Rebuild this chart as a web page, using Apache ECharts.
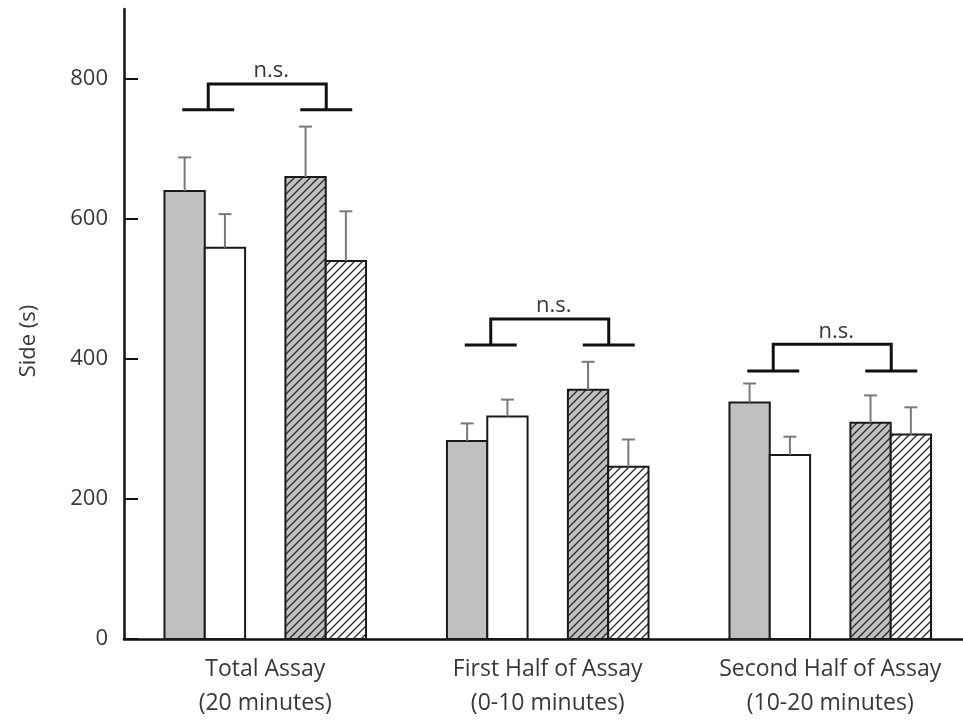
<!DOCTYPE html>
<html>
<head>
<meta charset="utf-8">
<script src="https://cdn.jsdelivr.net/npm/echarts@6/dist/echarts.min.js"></script>
<style>
  html, body { margin: 0; padding: 0; background: #ffffff; }
  #chart { width: 963px; height: 720px; }
</style>
</head>
<body>
<div id="chart"></div>
<script>
// ---- data ----
const categories = [
  'Total Assay\n(20 minutes)',
  'First Half of Assay\n(0-10 minutes)',
  'Second Half of Assay\n(10-20 minutes)'
];
const yTicks = [0, 200, 400, 600, 800];

const solidGrey = [640, 283, 338];
const solidGreyErr = [48, 25, 27];
const solidWhite = [559, 318, 263];
const solidWhiteErr = [48, 24, 26];
const hatchedGrey = [660, 356, 309];
const hatchedGreyErr = [72, 40, 39];
const hatchedWhite = [540, 246, 292];
const hatchedWhiteErr = [71, 39, 39];

const bracketTop = [793, 457, 421];
const bracketLow = [756, 420, 383];
const bracketLabel = 'n.s.';

// ---- styling ----
const FONT = '"Open Sans", "Noto Sans", sans-serif';
const TEXT = '#383838';
const BAR_W = 0.1427;            // bar width in category units
const CAP = 6.5;                 // half width of error caps (px)
const ERR_COLOR = '#7a7a7a';
const GREY = '#c0c0c0';
const OUTLINE = '#1a1a1a';

function hatch(bg) {
  const s = 8;
  const c = document.createElement('canvas');
  c.width = s; c.height = s;
  const g = c.getContext('2d');
  g.fillStyle = bg;
  g.fillRect(0, 0, s, s);
  g.strokeStyle = '#2a2a2a';
  g.lineWidth = 1.3;
  g.beginPath();
  g.moveTo(-1, s + 1); g.lineTo(s + 1, -1);
  g.moveTo(-1, 1); g.lineTo(1, -1);
  g.moveTo(s - 1, s + 1); g.lineTo(s + 1, s - 1);
  g.stroke();
  return { image: c, repeat: 'repeat' };
}

function rows(values, errs) {
  return values.map((v, i) => [i, v, errs[i]]);
}

function barRenderer(slot, fill) {
  return function (params, api) {
    const cx = api.value(0) + slot * BAR_W;
    const v = api.value(1);
    const e = api.value(2);
    const w = api.size([BAR_W, 0])[0];
    const top = api.coord([cx, v]);
    const base = api.coord([cx, 0]);
    const et = api.coord([cx, v + e]);
    return {
      type: 'group',
      children: [
        {
          type: 'rect',
          shape: { x: top[0] - w / 2, y: top[1], width: w, height: base[1] - top[1] },
          style: { fill: fill, stroke: OUTLINE, lineWidth: 2 }
        },
        {
          type: 'line',
          shape: { x1: top[0], y1: top[1], x2: et[0], y2: et[1] },
          style: { stroke: ERR_COLOR, lineWidth: 2 }
        },
        {
          type: 'line',
          shape: { x1: et[0] - CAP, y1: et[1], x2: et[0] + CAP, y2: et[1] },
          style: { stroke: ERR_COLOR, lineWidth: 2 }
        }
      ]
    };
  };
}

function bracketRenderer(params, api) {
  const c = api.value(0);
  const hi = api.coord([c, api.value(1)]);
  const lo = api.coord([c, api.value(2)]);
  const xl = hi[0] - 57, xr = hi[0] + 61;
  const arm = 26;
  const st = { stroke: '#111111', lineWidth: 3, fill: null };
  return {
    type: 'group',
    children: [
      { type: 'polyline', shape: { points: [[xl, lo[1]], [xl, hi[1]], [xr, hi[1]], [xr, lo[1]]] }, style: st },
      { type: 'line', shape: { x1: xl - arm, y1: lo[1], x2: xl + arm, y2: lo[1] }, style: st },
      { type: 'line', shape: { x1: xr - arm, y1: lo[1], x2: xr + arm, y2: lo[1] }, style: st },
      {
        type: 'text',
        style: {
          text: bracketLabel, x: (xl + xr) / 2 + 4, y: hi[1] - 13,
          align: 'center', verticalAlign: 'middle',
          font: '22px ' + FONT, fill: TEXT
        }
      }
    ]
  };
}

const chart = echarts.init(document.getElementById('chart'), null, { renderer: 'canvas' });

chart.setOption({
  backgroundColor: '#ffffff',
  animation: false,
  grid: { left: 124, right: 0, top: 9, bottom: 81, containLabel: false },
  xAxis: {
    type: 'value',
    min: -0.5,
    max: 2.47,
    axisLine: { show: true, onZero: false, lineStyle: { color: '#111111', width: 2.5 } },
    axisTick: { show: false },
    splitLine: { show: false },
    axisLabel: {
      customValues: [0, 1, 2],
      formatter: (v) => categories[Math.round(v)],
      color: TEXT,
      fontFamily: FONT,
      fontSize: 23,
      lineHeight: 34,
      margin: 13
    }
  },
  yAxis: {
    type: 'value',
    min: 0,
    max: 900,
    name: 'Side (s)',
    nameLocation: 'middle',
    nameGap: 84,
    nameTextStyle: { color: TEXT, fontFamily: FONT, fontSize: 22, padding: [0, 34, 0, 0] },
    axisLine: { show: true, onZero: false, lineStyle: { color: '#111111', width: 2.5 } },
    axisTick: { show: true, inside: true, length: 14, customValues: yTicks, lineStyle: { color: '#111111', width: 2 } },
    splitLine: { show: false },
    axisLabel: {
      customValues: yTicks,
      color: TEXT,
      fontFamily: FONT,
      fontSize: 22,
      margin: 16
    }
  },
  series: [
    { type: 'custom', name: 'Group 1', renderItem: barRenderer(-2, GREY), data: rows(solidGrey, solidGreyErr) },
    { type: 'custom', name: 'Group 2', renderItem: barRenderer(-1, '#ffffff'), data: rows(solidWhite, solidWhiteErr) },
    { type: 'custom', name: 'Group 3', renderItem: barRenderer(1, hatch(GREY)), data: rows(hatchedGrey, hatchedGreyErr) },
    { type: 'custom', name: 'Group 4', renderItem: barRenderer(2, hatch('#ffffff')), data: rows(hatchedWhite, hatchedWhiteErr) },
    {
      type: 'custom', name: 'Comparison', renderItem: bracketRenderer,
      data: categories.map((_, i) => [i, bracketTop[i], bracketLow[i]])
    }
  ]
});
</script>
</body>
</html>
